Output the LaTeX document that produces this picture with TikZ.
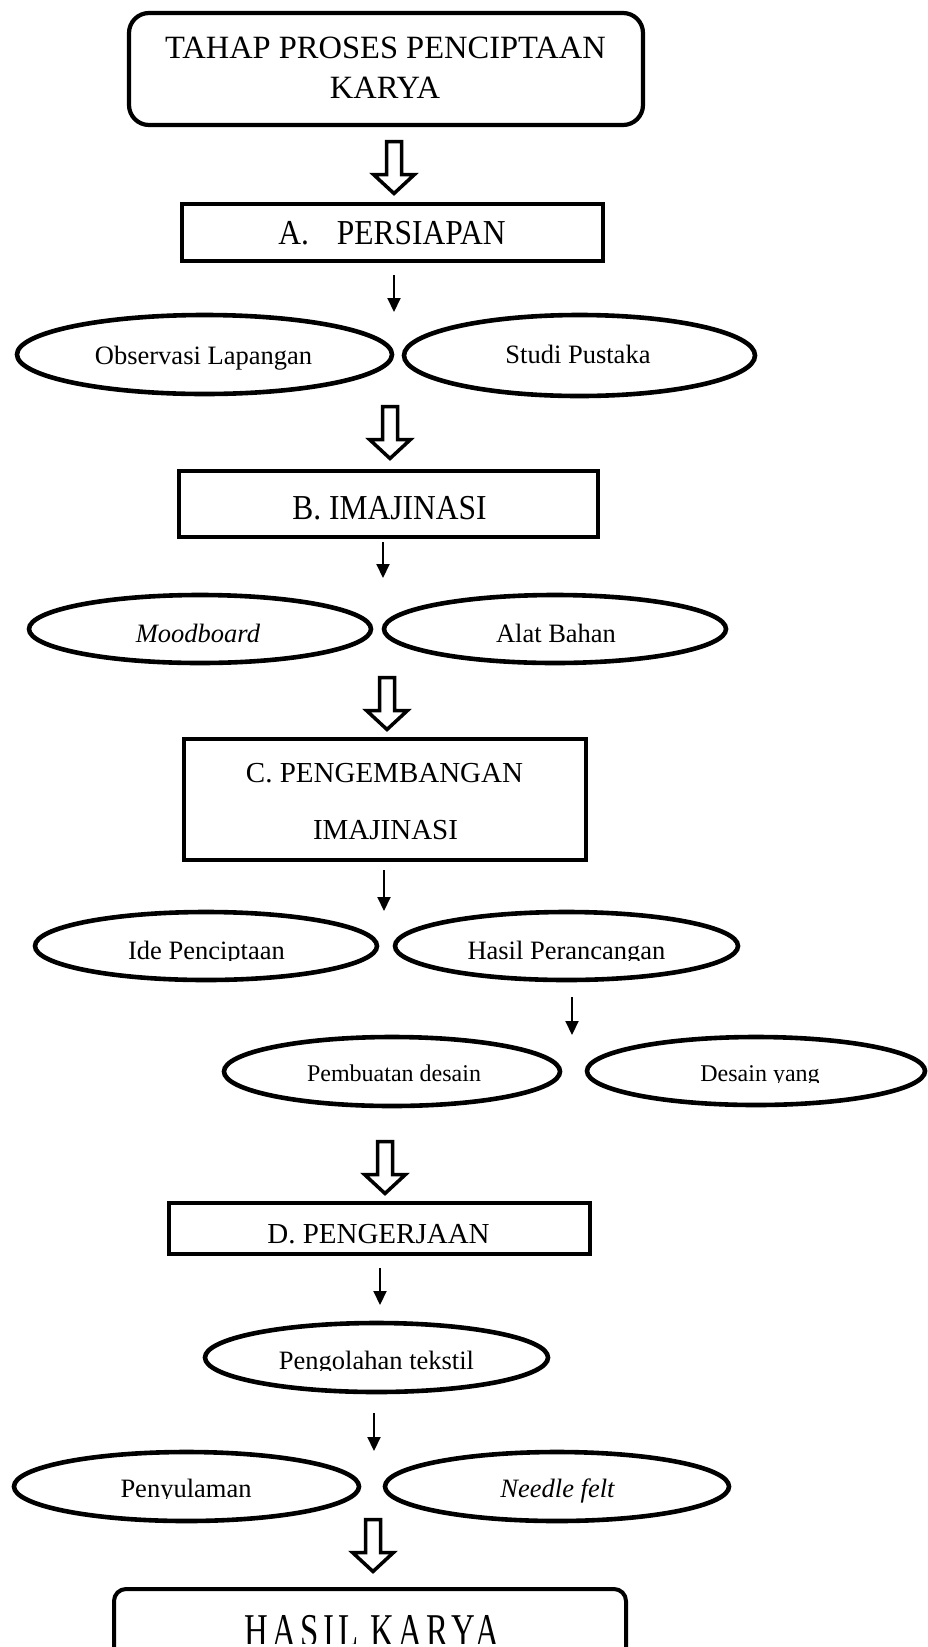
\documentclass[tikz,border=0pt]{standalone}
\usepackage{fontspec}
\setmainfont{Liberation Serif}
\newfontfamily\stretchfont{Liberation Serif}[FakeStretch=0.9]
\newfontfamily\hasilfont{Liberation Serif}[FakeStretch=0.7,LetterSpace=9]
\usetikzlibrary{shapes.geometric,arrows.meta}
\newcommand{\fsz}[1]{\fontsize{#1}{#1}\selectfont}
\tikzset{
  boxnode/.style={draw, line width=4pt, inner sep=0pt},
  ovalnode/.style={draw, ellipse, line width=4.6pt, inner sep=0pt},
  txt/.style={anchor=base, inner sep=0pt},
  ovtxt/.style={anchor=base, inner sep=0pt, font=\fsz{26.5pt}},
  ovtxtsm/.style={anchor=base, inner sep=0pt, font=\fsz{24pt}},
  smallarr/.style={line width=2pt, -{Triangle[length=14pt,width=13pt]}},
  hollowarrow/.pic={
    \draw[line width=3.5pt, miter limit=10] (-7.5,0) -- (7.5,0) -- (7.5,33) -- (20.5,33) -- (0,52) -- (-20.5,33) -- (-7.5,33) -- cycle;
  }
}
\begin{document}
\begin{tikzpicture}[x=1pt,y=-1pt]
\useasboundingbox (0,0) rectangle (928,1647);
\clip (0,0) rectangle (928,1647);

% title box
\node[boxnode, rounded corners=20pt, line width=4.2pt, minimum width=514pt, minimum height=112pt] (top) at (386,69) {};
\node[txt, font=\fsz{32.5pt}] (topt1) at (385.5,58) {TAHAP PROSES PENCIPTAAN};
\node[txt, font=\fsz{32.5pt}] (topt2) at (385,98) {KARYA};

\pic at (394,141.5) {hollowarrow};

% A
\node[boxnode, minimum width=421pt, minimum height=57pt] (boxa) at (392.5,232.5) {};
\node[txt, font=\stretchfont\fsz{35pt}] (boxat) at (392,244) {A.\hspace{28pt}PERSIAPAN};
\coordinate (a1s) at (394,275);
\coordinate (a1e) at (394,312);
\draw[smallarr] (a1s) -- (a1e);

\node[ovalnode, minimum width=375pt, minimum height=79pt] (obs) at (204.5,354.5) {};
\node[ovtxt] (obst) at (203.5,364) {Observasi Lapangan};
\node[ovalnode, minimum width=351pt, minimum height=81pt] (studi) at (579.5,355.5) {};
\node[ovtxt] (studit) at (578,363) {Studi Pustaka};

\pic at (390,406.5) {hollowarrow};

% B
\node[boxnode, minimum width=419pt, minimum height=66pt] (boxb) at (388.5,504) {};
\node[txt, font=\stretchfont\fsz{35pt}] (boxbt) at (389.5,519) {B. IMAJINASI};
\coordinate (a2s) at (383,542);
\coordinate (a2e) at (383,578);
\draw[smallarr] (a2s) -- (a2e);

\node[ovalnode, minimum width=342pt, minimum height=68pt] (mood) at (200,629) {};
\node[ovtxt] (moodt) at (198,642) {\itshape Moodboard};
\node[ovalnode, minimum width=342pt, minimum height=68pt] (alat) at (555,629) {};
\node[ovtxt] (alatt) at (556,642) {Alat Bahan};

\pic at (387,677.5) {hollowarrow};

% C
\node[boxnode, minimum width=402pt, minimum height=121pt] (boxc) at (385,799.5) {};
\node[txt, font=\fsz{29pt}] (boxct1) at (384.5,782) {C. PENGEMBANGAN};
\node[txt, font=\fsz{29pt}] (boxct2) at (385.5,839) {IMAJINASI};
\coordinate (a3s) at (384,870);
\coordinate (a3e) at (384,911);
\draw[smallarr] (a3s) -- (a3e);

\node[ovalnode, minimum width=342pt, minimum height=68pt] (ide) at (206,946) {};
\node[ovalnode, minimum width=343pt, minimum height=68pt] (hasilp) at (566.5,946) {};
\begin{scope}
\clip (0,0) rectangle (928,960);
\node[ovtxt] (idet) at (206.5,959) {Ide Penciptaan};
\node[ovtxt] (hasilpt) at (566.5,959) {Hasil Perancangan};
\end{scope}
\coordinate (a4s) at (572,997);
\coordinate (a4e) at (572,1035);
\draw[smallarr] (a4s) -- (a4e);

\node[ovalnode, minimum width=336pt, minimum height=69pt] (pemb) at (392,1071.5) {};
\node[ovtxtsm] (pembt) at (394,1081) {Pembuatan desain};
\node[ovalnode, minimum width=338pt, minimum height=68pt] (desain) at (756,1071) {};
\begin{scope}
\clip (0,0) rectangle (928,1082);
\node[ovtxtsm] (desaint) at (760,1081) {Desain yang};
\end{scope}

\pic at (385,1141.5) {hollowarrow};

% D
\node[boxnode, minimum width=421pt, minimum height=51pt] (boxd) at (379.5,1228.5) {};
\node[txt, font=\fsz{29pt}] (boxdt) at (378.5,1243) {D. PENGERJAAN};
\coordinate (a5s) at (380,1268);
\coordinate (a5e) at (380,1305);
\draw[smallarr] (a5s) -- (a5e);

\node[ovalnode, minimum width=343pt, minimum height=69pt] (olah) at (376.5,1357.5) {};
\begin{scope}
\clip (0,0) rectangle (928,1370);
\node[ovtxt] (olaht) at (376.5,1369) {Pengolahan tekstil};
\end{scope}
\coordinate (a6s) at (374,1413);
\coordinate (a6e) at (374,1451);
\draw[smallarr] (a6s) -- (a6e);

\node[ovalnode, minimum width=345pt, minimum height=69pt] (sulam) at (186.5,1486.5) {};
\begin{scope}
\clip (0,0) rectangle (928,1498);
\node[ovtxt] (sulamt) at (186,1497) {Penyulaman};
\end{scope}
\node[ovalnode, minimum width=344pt, minimum height=69pt] (needle) at (557,1486.5) {};
\node[ovtxt] (needlet) at (557.5,1497) {\itshape Needle felt};

\pic at (373,1519.5) {hollowarrow};

% result
\node[boxnode, rounded corners=12pt, minimum width=512pt, minimum height=120pt] (hasil) at (370,1649) {};
\begin{scope}
\clip (0,0) rectangle (928,1643);
\node[txt, font=\hasilfont\fsz{47pt}] (hasilt) at (372,1646) {HASIL KARYA};
\end{scope}
\end{tikzpicture}
\end{document}
